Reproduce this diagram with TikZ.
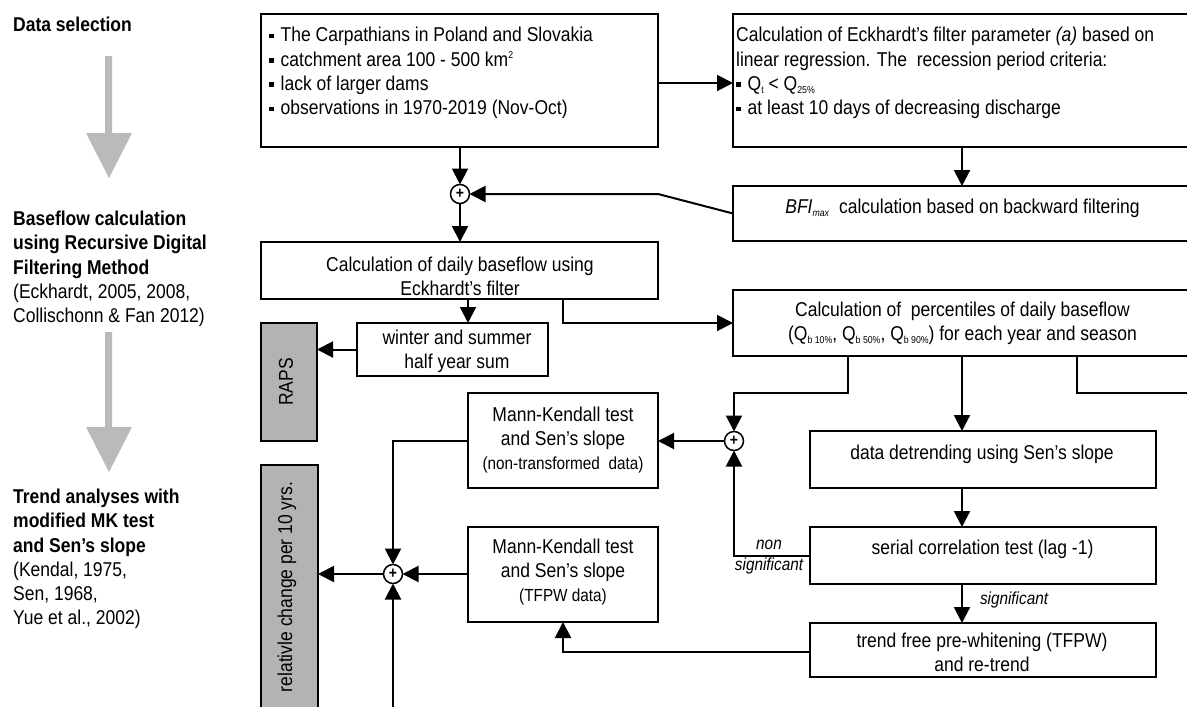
\documentclass[tikz,border=0pt]{standalone}
\usepackage{fontspec}
\setmainfont{Liberation Sans}[FakeStretch=0.875]
\usetikzlibrary{arrows.meta}
\definecolor{boxgray}{RGB}{179,179,179}
\definecolor{arrgray}{RGB}{186,186,186}
\newcommand{\bul}{\raisebox{3.5pt}{\rule{4.5pt}{4.5pt}}\hspace{7pt}}
\newcommand{\sbs}[1]{\raisebox{-3.5pt}{\fontsize{10}{10}\selectfont #1}}
\newcommand{\sps}[1]{\raisebox{8pt}{\fontsize{10}{10}\selectfont #1}}
\begin{document}
\begin{tikzpicture}[x=1pt,y=-1pt,
  font=\fontsize{20}{24.3}\selectfont,
  box/.style={draw, line width=1.5pt, rectangle, inner sep=0pt, outer sep=0pt, anchor=north west},
  graybox/.style={box, fill=boxgray, line width=2.2pt},
  conn/.style={line width=2pt, -{Triangle[length=16pt,width=16pt]}},
  plainline/.style={line width=2pt},
  plus/.style={circle, draw, line width=1.5pt, minimum size=19pt, inner sep=0pt, outer sep=0pt, font=\fontsize{16}{16}\selectfont\bfseries},
  txt/.style={inner sep=0pt, align=center},
  small/.style={font=\fontsize{17.5}{21.5}\selectfont}
]
\path[use as bounding box] (0,0) rectangle (1187,707);
\clip (0,0) rectangle (1187,707);

% left column
\node[txt, anchor=west, align=left] (ldata) at (13,24.5) {\bfseries Data selection};
\fill[arrgray] (105,56) -- (112,56) -- (112,133) -- (132,133) -- (109,178) -- (86,133) -- (105,133) -- cycle;
\node[txt, anchor=west, align=left] (lbase) at (13,269) {\textbf{Baseflow calculation}\\\textbf{using Recursive Digital}\\\textbf{Filtering Method}\\(Eckhardt, 2005, 2008,\\Collischonn \& Fan 2012)};
\fill[arrgray] (105,332) -- (112,332) -- (112,427) -- (132,427) -- (109,472) -- (86,427) -- (105,427) -- cycle;
\node[txt, anchor=west, align=left] (ltrend) at (13,559) {\textbf{Trend analyses with}\\\textbf{modified MK test}\\\textbf{and Sen’s slope}\\(Kendal, 1975,\\Sen, 1968,\\Yue et al., 2002)};

% boxes
\node[box, minimum width=397pt, minimum height=133pt] (data) at (261,14) {};
\node[box, minimum width=458pt, minimum height=133pt] (eck) at (733,14) {};
\node[box, minimum width=458pt, minimum height=55pt] (bfi) at (733,186) {};
\node[box, minimum width=397pt, minimum height=57pt] (daily) at (261,242) {};
\node[box, minimum width=458pt, minimum height=66pt] (perc) at (733,290) {};
\node[box, minimum width=191pt, minimum height=53pt] (winter) at (357,323) {};
\node[graybox, minimum width=56pt, minimum height=118pt] (raps) at (261,323) {};
\node[box, minimum width=190pt, minimum height=95pt] (mk1) at (468,393) {};
\node[box, minimum width=346pt, minimum height=57pt] (det) at (810,431) {};
\node[graybox, minimum width=57pt, minimum height=260pt] (rel) at (261,465) {};
\node[box, minimum width=190pt, minimum height=95pt] (mk2) at (468,527) {};
\node[box, minimum width=346pt, minimum height=57pt] (ser) at (810,527) {};
\node[box, minimum width=346pt, minimum height=54pt] (tfpw) at (810,623) {};

\node[plus] (p1) at (460,194) {+};
\node[plus] (p2) at (734,441) {+};
\node[plus] (p3) at (393,574) {+};

% texts
\node[txt, anchor=west, align=left] (tdata) at (269,73) {\bul The Carpathians in Poland and Slovakia\\\bul catchment area 100 - 500 km\sps{2}\\\bul lack of larger dams\\\bul observations in 1970-2019 (Nov-Oct)};
\node[txt, anchor=west, align=left] (teck) at (736,73) {Calculation of Eckhardt’s filter parameter \textit{(a)} based on\\linear regression. The\ \ recession period criteria:\\\bul Q\sbs{t} < Q\sbs{25\%}\\\bul at least 10 days of decreasing discharge};
\node[txt] (tbfi) at (962.5,208) {\textit{BFI}\sbs{\textit{max}}\ \ calculation based on backward filtering};
\node[txt] (tdaily) at (460,276) {Calculation of daily baseflow using\\Eckhardt’s filter};
\node[txt] (twinter) at (457,351) {winter and summer\\half year sum};
\node[txt] (tperc) at (962.5,323) {Calculation of\ \ percentiles of daily baseflow\\(Q\sbs{b 10\%}, Q\sbs{b 50\%}, Q\sbs{b 90\%}) for each year and season};
\node[txt] (tdet) at (982,454) {data detrending using Sen’s slope};
\node[txt] (tser) at (982.5,549) {serial correlation test (lag -1)};
\node[txt] (ttfpw) at (982,652) {trend free pre-whitening (TFPW)\\and re-trend};
\node[txt] (tmk1) at (563,440) {Mann-Kendall test\\and Sen’s slope\\{\fontsize{17.5}{20}\selectfont(non-transformed\ \ data)}};
\node[txt] (tmk2) at (563,572) {Mann-Kendall test\\and Sen’s slope\\{\fontsize{17.5}{20}\selectfont(TFPW data)}};
\node[txt, rotate=90] (traps) at (286,382) {RAPS};
\node[txt, rotate=90] (trel) at (287,587) {relativle change per 10 yrs.};
\node[txt, small] (tnon) at (769,557) {\itshape non\\\itshape significant};

% connectors
\coordinate (k1) at (658,194);
\coordinate (rightend) at (1195,393);
\coordinate (bot) at (393,712);
\draw[conn] (data.east |- 0,83) -- (eck.west |- 0,83);
\draw[conn] (data.south -| p1) -- (p1.north);
\draw[conn] (eck.south) -- (bfi.north);
\draw[conn] (bfi.west) -- (k1) -- (p1.east);
\draw[conn] (p1.south) -- (p1 |- daily.north);
\draw[conn] (daily.south -| 468,0) -- (winter.north -| 468,0);
\draw[conn] (winter.west) -- (raps.east |- winter.west);
\draw[conn] (daily.south -| 563,0) |- (perc.west);
\draw[conn] (perc.south -| 848,0) -- (848,393) -| (p2.north);
\draw[conn] (perc.south) -- (perc.south |- det.north);
\draw[plainline] (perc.south -| 1077,0) |- (rightend);
\draw[conn] (perc.south |- det.south) -- (perc.south |- ser.north);
\draw[conn] (perc.south |- ser.south) -- node[pos=0.42, right=17pt, inner sep=0pt, font=\fontsize{17.5}{21.5}\selectfont\itshape] (tsig) {significant} (perc.south |- tfpw.north);
\draw[conn] (ser.west) -| (p2.south);
\draw[conn] (p2.west) -- (p2.west -| mk1.east);
\draw[conn] (mk1.west) -| (p3.north);
\draw[conn] (mk2.west |- p3) -- (p3.east);
\draw[conn] (p3.west) -- (p3.west -| rel.east);
\draw[conn] (bot) -- (p3.south);
\draw[conn] (tfpw.west |- 0,652) -| (mk2.south);
\end{tikzpicture}
\end{document}
